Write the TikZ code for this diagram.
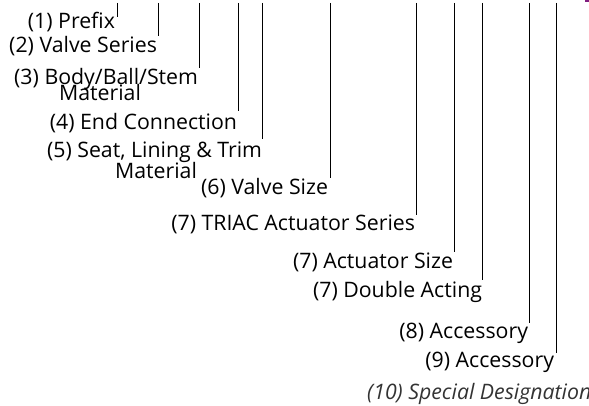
\documentclass[tikz,border=0pt]{standalone}
\usepackage{fontspec}
\setmainfont{Open Sans}
\begin{document}
\begin{tikzpicture}[x=1pt,y=-1pt,
  lbl/.style={inner sep=0pt,outer sep=0pt,font=\fontsize{21.3}{23}\selectfont,text=black},
  lead/.style={line width=1pt,draw=black},
  special/.style={inner sep=0pt,font=\fontsize{21.3}{23}\selectfont\itshape,text=black!80}]
\useasboundingbox (0,0) rectangle (589,406);
\fill[fill={rgb,255:red,128;green,30;blue,128}] (585,0) rectangle (589,2);
% labels
\node[lbl,anchor=base east] (l1) at (115,29) {(1) Prefix};
\node[lbl,anchor=base east] (l2) at (157,53) {(2) Valve Series};
\node[lbl,anchor=base east] (l3) at (198,85) {(3) Body/Ball/Stem};
\node[lbl,anchor=base] (m3) at (100,101) {Material};
\node[lbl,anchor=base east] (l4) at (237,130) {(4) End Connection};
\node[lbl,anchor=base east] (l5) at (262,158) {(5) Seat, Lining \& Trim};
\node[lbl,anchor=base] (m5) at (156,179) {Material};
\node[lbl,anchor=base east] (l6) at (328,195) {(6) Valve Size};
\node[lbl,anchor=base east] (l7) at (415,231) {(7) TRIAC Actuator Series};
\node[lbl,anchor=base east] (l8) at (453,268) {(7) Actuator Size};
\node[lbl,anchor=base east] (l9) at (482,297) {(7) Double Acting};
\node[lbl,anchor=base east] (l10) at (528,338) {(8) Accessory};
\node[lbl,anchor=base east] (l11) at (554,367) {(9) Accessory};
\node[special,anchor=base west] (l12) at (367,399) {(10) Special Designation};
% leader tops and bottoms
\foreach \n/\x/\b in {1/117/17,2/158/36,3/199/68,4/238/111,5/262/139,6/330/178,7/416/215,8/454/252,9/482/280,10/529/323,11/556/353}{
  \coordinate (t\n) at (\x,3);
  \coordinate (b\n) at (\x,\b);
  \draw[lead] (t\n) -- (b\n);
}
\end{tikzpicture}
\end{document}
